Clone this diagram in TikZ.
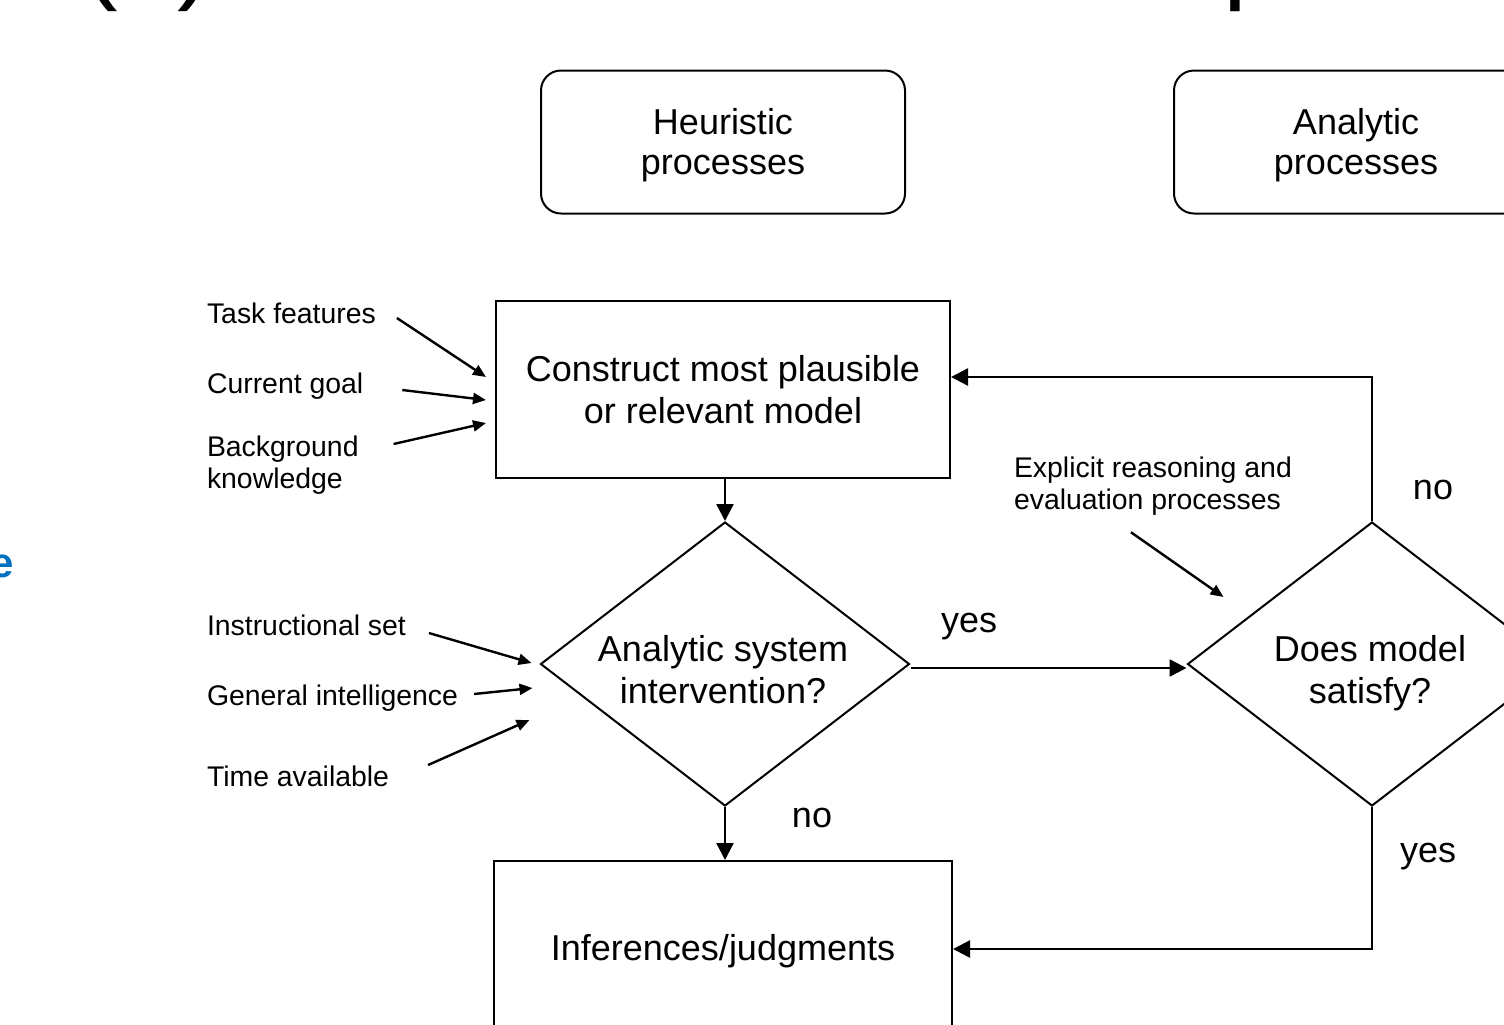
\documentclass[tikz,border=0pt]{standalone}
\usepackage{fontspec}
\setmainfont{Liberation Sans}
\usetikzlibrary{arrows.meta,shapes.geometric,positioning}
\definecolor{titleblue}{RGB}{0,112,192}

\begin{document}
\begin{tikzpicture}[x=0.5pt,y=-0.5pt,line width=1pt,
    rbox/.style={draw,rounded corners=10pt,minimum width=182pt,minimum height=71.5pt,
        align=center,font=\fontsize{18}{20}\selectfont},
    sbox/.style={draw,minimum width=227pt,minimum height=88.5pt,align=center,
        font=\fontsize{18}{21}\selectfont},
    dia/.style={draw,diamond,shape aspect=1.3,inner sep=0pt,minimum width=184.5pt,
        minimum height=142pt},
    diatext/.style={align=center,font=\fontsize{18}{21}\selectfont},
    lbl/.style={anchor=west,inner sep=0pt,align=left,font=\fontsize{14.2}{16}\selectfont},
    ans/.style={font=\fontsize{18}{21}\selectfont},
    link/.style={-{Triangle[length=8.5pt,width=8.5pt]},line width=1.2pt},
    feed/.style={-{Triangle[length=6.5pt,width=5.5pt]},line width=1.2pt},
    frag/.style={anchor=base west,inner sep=0pt,font=\fontsize{53.5}{60}\selectfont}]

    \useasboundingbox (0,0) rectangle (1504,1024);
    \clip (0,0) rectangle (1504,1024);

    % cut-off slide text
    \node[frag] (title)  at (81,-10.5)   {(a)};
    \node[frag] (titlep) at (1222,-10.5) {p};
    \node[frag,anchor=base east,text=titleblue,font=\bfseries\fontsize{21}{25}\selectfont]
        (side) at (15,577) {e};

    \node[rbox] (heur) at (723,142)  {\rule{0pt}{16pt}Heuristic\\processes};
    \node[rbox] (anal) at (1356,142) {\rule{0pt}{16pt}Analytic\\processes};
    \node[sbox] (model) at (723,389.5) {Construct most plausible\\or relevant model};
    \node[dia,label={[diatext,xshift=-1pt,yshift=-3pt]center:{Analytic system\\intervention?}}]
        (interv) at (725,664) {};
    \node[dia,label={[diatext,xshift=-1pt,yshift=-4.5pt]center:{Does model\\satisfy?}}]
        (satisfy) at (1372,664) {};
    \node[sbox,minimum width=229pt,minimum height=90pt] (infer) at (723,951) {Inferences/judgments};

    % influences
    \node[lbl] (task)  at (206,313) {Task features};
    \node[lbl] (goal)  at (206,386) {Current goal};
    \node[lbl] (know)  at (206,465) {Background\\knowledge};
    \node[lbl] (instr) at (206,625) {Instructional set};
    \node[lbl] (intel) at (206,698) {General intelligence};
    \node[lbl] (time)  at (206,776) {Time available};
    \node[lbl] (expl)  at (1013,486) {Explicit reasoning and\\evaluation processes};

    \draw[feed] ([xshift=10pt,yshift=-2.5pt]task.east) -- ([xshift=-4.5pt,yshift=6.25pt]model.west);
    \draw[feed] ([xshift=19pt,yshift=-2pt]goal.east)   -- ([xshift=-4.5pt,yshift=-5.25pt]model.west);
    \draw[feed] ([xshift=17pt,yshift=10.5pt]know.east) -- ([xshift=-4.5pt,yshift=-16.75pt]model.west);
    \draw[feed] ([xshift=11pt,yshift=-4pt]instr.east)  -- ([xshift=-4pt,yshift=0.5pt]interv.west);
    \draw[feed] ([xshift=7.5pt,yshift=2pt]intel.east)  -- ([xshift=-3.5pt,yshift=-12pt]interv.west);
    \draw[feed] ([xshift=19pt,yshift=5.5pt]time.east)  -- ([xshift=-5pt,yshift=-28pt]interv.west);
    \draw[feed] ([xshift=-11pt,yshift=-8pt]expl.south) -- ([xshift=18.5pt,yshift=33.5pt]satisfy.west);

    \path [link]
    ([xshift=1pt]model.south) edge (interv.north)
    (interv.south) edge ([xshift=1pt]infer.north)
    ([yshift=-2pt]interv.east) edge ([yshift=-2pt]satisfy.west);
    \draw[link] (satisfy.north) |- ([yshift=6.25pt]model.east);
    \draw[link] (satisfy.south) |- ([yshift=1pt]infer.east);

    \node[ans] (no1)  at (812,818)  {no};
    \node[ans] (yes1) at (969,627)  {yes};
    \node[ans] (no2)  at (1433,490) {no};
    \node[ans] (yes2) at (1428,857) {yes};
\end{tikzpicture}
\end{document}
